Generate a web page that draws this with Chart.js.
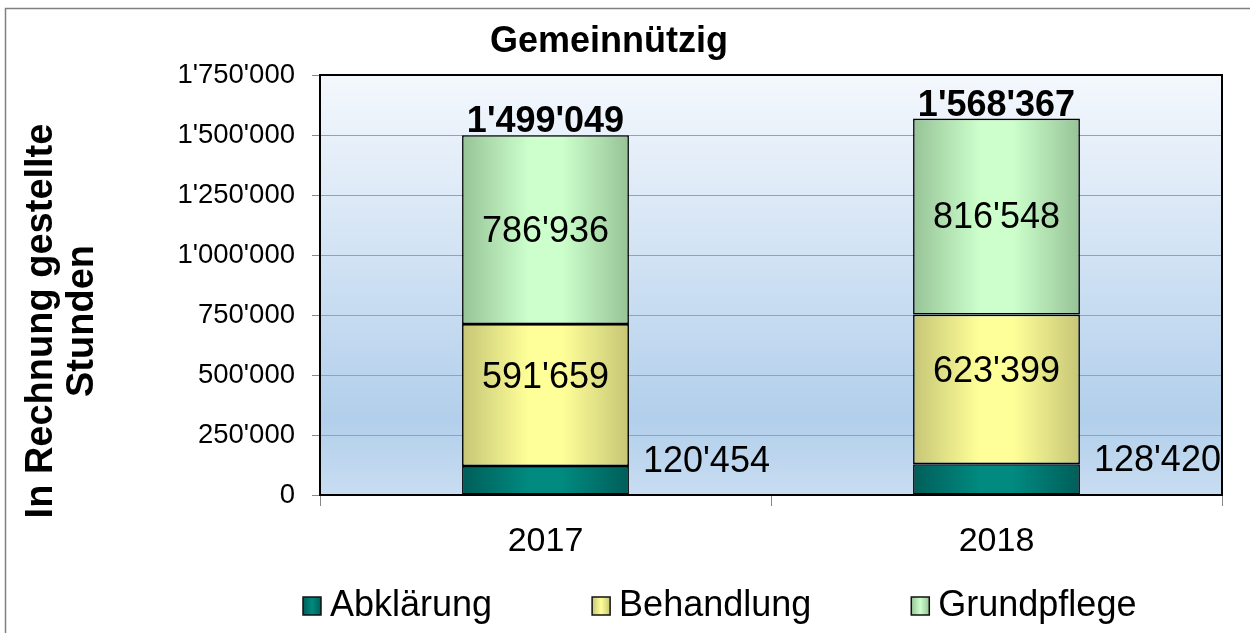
<!DOCTYPE html>
<html>
<head>
<meta charset="utf-8">
<style>
html,body{margin:0;padding:0;background:#fff;}
#wrap{width:1250px;height:633px;}
</style>
<script src="https://cdn.jsdelivr.net/npm/chart.js@4/dist/chart.umd.min.js"></script>
</head>
<body>
<div id="wrap"><canvas id="c" width="1250" height="633"></canvas></div>
<script>
const categories = ['2017', '2018'];
const abklaerung = [120454, 128420];
const behandlung = [591659, 623399];
const grundpflege = [786936, 816548];
const seriesNames = ['Abklärung', 'Behandlung', 'Grundpflege'];
const yTicks = [0, 250000, 500000, 750000, 1000000, 1250000, 1500000, 1750000];
const chartTitle = 'Gemeinnützig';
const yTitleLines = ['In Rechnung gestellte', 'Stunden'];

const FONT = "'Liberation Sans', Arial, sans-serif";
const fmt = n => String(n).replace(/\B(?=(\d{3})+(?!\d))/g, "'");
const BAR_PCT = 0.37;

const palette = [
  ['#005e59', '#008a80'],
  ['#c6c676', '#ffff99'],
  ['#97c397', '#ccffcc']
];

function grad(i) {
  const [edge, mid] = palette[i];
  return ctx => {
    const chart = ctx.chart;
    const ca = chart.chartArea;
    if (!ca || !chart.scales.x || ctx.dataIndex === undefined) return mid;
    const cx = chart.scales.x.getPixelForValue(ctx.dataIndex);
    const hw = (ca.right - ca.left) / categories.length * BAR_PCT / 2;
    const g = chart.ctx.createLinearGradient(cx - hw, 0, cx + hw, 0);
    g.addColorStop(0, edge);
    g.addColorStop(0.4, mid);
    g.addColorStop(0.6, mid);
    g.addColorStop(1, edge);
    return g;
  };
}

const decor = {
  id: 'decor',
  beforeDraw(chart) {
    const c = chart.ctx, ca = chart.chartArea;
    c.save();
    c.fillStyle = '#fff';
    c.fillRect(0, 0, chart.width, chart.height);
    c.strokeStyle = '#808080';
    c.lineWidth = 1.5;
    c.strokeRect(5.5, 8.5, 1260, 640);
    const g = c.createLinearGradient(0, ca.top, 0, ca.bottom);
    g.addColorStop(0, '#f4f8fd');
    g.addColorStop(0.82, '#b2cfeb');
    g.addColorStop(1, '#c8ddf1');
    c.fillStyle = g;
    c.fillRect(ca.left, ca.top, ca.right - ca.left, ca.bottom - ca.top);
    c.restore();
  },
  afterDatasetsDraw(chart) {
    const c = chart.ctx, ca = chart.chartArea;
    c.save();
    c.strokeStyle = '#000';
    c.lineWidth = 2;
    c.strokeRect(ca.left, ca.top, ca.right - ca.left, ca.bottom - ca.top);

    // data labels
    c.fillStyle = '#000';
    const lab = '36px ' + FONT;
    c.font = lab;
    const m0 = chart.getDatasetMeta(0), m1 = chart.getDatasetMeta(1), m2 = chart.getDatasetMeta(2);
    categories.forEach((cat, i) => {
      const e0 = m0.data[i], e1 = m1.data[i], e2 = m2.data[i];
      c.textAlign = 'left'; c.textBaseline = 'middle';
      c.fillText(fmt(abklaerung[i]), e0.x + e0.width / 2 + 14, (e0.y + e0.base) / 2 - 18);
      c.textAlign = 'center';
      c.fillText(fmt(behandlung[i]), e1.x, (e1.y + e1.base) / 2 - 17);
      c.fillText(fmt(grundpflege[i]), e2.x, (e2.y + e2.base) / 2 + 2);
      c.font = 'bold 36px ' + FONT;
      c.textBaseline = 'alphabetic';
      c.fillText(fmt(abklaerung[i] + behandlung[i] + grundpflege[i]), e2.x, e2.y - 3);
      c.font = lab;
    });

    // title
    c.font = 'bold 36px ' + FONT;
    c.textAlign = 'center';
    c.textBaseline = 'alphabetic';
    c.fillText(chartTitle, 609, 52);

    // y title
    c.save();
    c.translate(0, 321);
    c.rotate(-Math.PI / 2);
    c.font = 'bold 38px ' + FONT;
    c.textBaseline = 'middle';
    c.fillText(yTitleLines[0], 0, 42);
    c.fillText(yTitleLines[1], 0, 83);
    c.restore();

    // legend
    c.font = '36px ' + FONT;
    c.textAlign = 'left';
    c.textBaseline = 'middle';
    let x = 303;
    const ly = 606;
    seriesNames.forEach((name, i) => {
      const g = c.createLinearGradient(x, 0, x + 18, 0);
      g.addColorStop(0, palette[i][0]);
      g.addColorStop(0.5, palette[i][1]);
      g.addColorStop(1, palette[i][0]);
      c.fillStyle = g;
      c.fillRect(x, ly - 9, 18, 18);
      c.strokeStyle = '#111';
      c.lineWidth = 1.5;
      c.strokeRect(x, ly - 9, 18, 18);
      c.fillStyle = '#000';
      c.fillText(name, x + 27, ly);
      x += 27 + c.measureText(name).width + 100;
    });
    c.restore();
  }
};

const datasets = [abklaerung, behandlung, grundpflege].map((d, i) => ({
  label: seriesNames[i],
  data: d,
  backgroundColor: grad(i),
  borderColor: '#000',
  borderWidth: 1.6,
  borderSkipped: false,
  categoryPercentage: 1,
  barPercentage: BAR_PCT
}));

new Chart(document.getElementById('c'), {
  type: 'bar',
  data: { labels: categories, datasets },
  options: {
    responsive: false,
    animation: false,
    layout: { padding: { left: 0, top: 75, right: 28, bottom: 0 } },
    plugins: { legend: { display: false }, title: { display: false }, tooltip: { enabled: false } },
    scales: {
      x: {
        stacked: true,
        afterFit(s) { s.height = 138; },
        border: { display: false },
        grid: { display: true, drawOnChartArea: false, offset: true, tickLength: 11, tickColor: '#888', lineWidth: 1 },
        ticks: { color: '#000', font: { family: FONT, size: 34 }, padding: 15 }
      },
      y: {
        stacked: true,
        min: 0,
        max: 1750000,
        afterFit(s) { s.width = 320; },
        afterBuildTicks(s) { s.ticks = yTicks.map(v => ({ value: v })); },
        border: { display: false },
        grid: { color: '#8ea2c9', lineWidth: 1, tickLength: 8, tickColor: '#888' },
        ticks: { color: '#000', font: { family: FONT, size: 27.5 }, padding: 17, callback: v => fmt(v) }
      }
    }
  },
  plugins: [decor]
});
</script>
</body>
</html>
